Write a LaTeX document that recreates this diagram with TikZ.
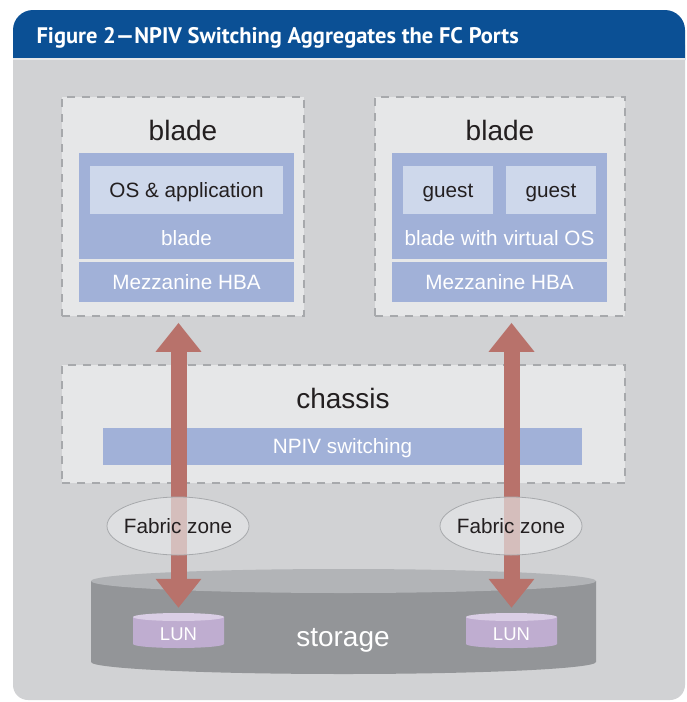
\documentclass[tikz,border=0pt]{standalone}
\usepackage{fontspec}
\setmainfont{Liberation Sans}
\newfontfamily\titlefont{PT Sans}
\usetikzlibrary{arrows.meta,shapes.geometric}
\definecolor{titleblue}{HTML}{0B5095}
\definecolor{panelgray}{HTML}{D1D2D4}
\definecolor{boxgray}{HTML}{E6E7E8}
\definecolor{dashgray}{HTML}{A7A9AC}
\definecolor{bladeblue}{HTML}{A1B1D8}
\definecolor{guestblue}{HTML}{CED8EB}
\definecolor{arrowred}{HTML}{B8726B}
\definecolor{diskdark}{HTML}{939598}
\definecolor{disklight}{HTML}{B2B4B7}
\definecolor{lunbody}{HTML}{BFADD0}
\definecolor{luntop}{HTML}{DACEE5}
\definecolor{inkdark}{HTML}{231F20}
\def\disk(#1,#2)(#3:#4:#5)#6#7{\fill[#6] (#1-#3,#2) -- (#1-#3,#2+#4) arc (180:0:#3 and #5) -- (#1+#3,#2) -- cycle; \fill[#7] (#1,#2) ellipse (#3 and #5);}
\tikzset{
	smalltext/.style={font=\fontsize{20.7}{24}\selectfont, text height=14.8pt, text depth=0pt},
	bigtext/.style={text=inkdark, font=\fontsize{28}{32}\selectfont, text height=20pt, text depth=0pt},
	luntext/.style={text=white, font=\fontsize{18.5}{22}\selectfont, text height=13.2pt, text depth=0pt, minimum width=91pt, minimum height=42pt, inner sep=0pt},
	dashbox/.style={draw=dashgray, line width=1.6pt, dash pattern=on 8pt off 7pt, fill=boxgray, inner sep=0pt},
	bladefill/.style={fill=bladeblue, inner sep=0pt, text=white, smalltext},
	guestfill/.style={fill=guestblue, inner sep=0pt, text=inkdark, smalltext},
	zone/.style={ellipse, draw=dashgray, line width=0.8pt, fill=boxgray, fill opacity=0.65, text opacity=1, text=inkdark, inner ysep=0pt, inner xsep=-4pt, minimum width=142pt, minimum height=58pt, smalltext},
	fatarrow/.style={draw=arrowred, line width=16pt, {Triangle[width=44pt,length=29pt]}-{Triangle[width=44pt,length=29pt]}},
}
\begin{document}
\begin{tikzpicture}[x=1pt, y=-1pt]
			%%%%% START %%%%%
			\useasboundingbox[fill=white] (0,0) rectangle (687,702);
			
			\fill[panelgray, rounded corners=15pt] (13,30) rectangle (685,700);
			\fill[titleblue, rounded corners=20pt] (13,10) rectangle (685,80);
			\fill[panelgray] (13,60) rectangle (685,100);
			\fill[boxgray] (13,58) rectangle (685,60);
			\node[anchor=base west, text=white, font=\titlefont\bfseries\fontsize{22.5}{26}\selectfont] (title) at (33,43) {Figure 2—NPIV Switching Aggregates the FC Ports};
			
			\node[dashbox, minimum width=242pt, minimum height=219pt] (bladeL) at (183,206.5) {};
			\node[bigtext] (bladeLtitle) at (183,130) {blade};
			\node[bladefill, minimum width=215pt, minimum height=106pt] (bodyL) at (186.5,206) {};
			\node[guestfill, minimum width=193pt, minimum height=48pt] (osapp) at (186.5,190) {OS \& application};
			\node[smalltext, text=white] (bodyLname) at (186.5,238) {blade};
			\node[bladefill, minimum width=215pt, minimum height=40pt] (hbaL) at (186.5,282) {Mezzanine HBA};
			
			\node[dashbox, minimum width=250pt, minimum height=219pt] (bladeR) at (500,206.5) {};
			\node[bigtext] (bladeRtitle) at (500,130) {blade};
			\node[bladefill, minimum width=215pt, minimum height=106pt] (bodyR) at (499.5,206) {};
			\node[guestfill, minimum width=90pt, minimum height=48pt] (guestA) at (448,190) {guest};
			\node[guestfill, minimum width=90pt, minimum height=48pt] (guestB) at (551,190) {guest};
			\node[smalltext, text=white] (bodyRname) at (499.5,238) {blade with virtual OS};
			\node[bladefill, minimum width=215pt, minimum height=40pt] (hbaR) at (499.5,282) {Mezzanine HBA};
			
			\node[dashbox, minimum width=563pt, minimum height=118pt] (chassis) at (343.5,424) {};
			\node[bigtext] (chassistitle) at (343,398) {chassis};
			\node[bladefill, minimum width=479pt, minimum height=37pt] (npiv) at (342.5,446.5) {NPIV switching};
			
			\disk(343.5,581)(252.5:81:12){diskdark}{disklight}
			\node[bigtext, text=white] (storage) at (343,636) {storage};
			
			\disk(178.5,617)(45.5:27:4){lunbody}{luntop}
			\disk(511.5,617)(45.5:27:4){lunbody}{luntop}
			\node[luntext] (lunL) at (178.5,634) {LUN};
			\node[luntext] (lunR) at (511.5,634) {LUN};
			
			\draw[fatarrow, shorten <=5pt, shorten >=6pt] (lunL.north) -- (lunL.north |- bladeL.south);
			\draw[fatarrow, shorten <=5pt, shorten >=6pt] (lunR.north) -- (lunR.north |- bladeR.south);
			
			\node[zone] (zoneL) at (178,526) {Fabric zone};
			\node[zone] (zoneR) at (511,526) {Fabric zone};
			%%%%% END %%%%%
\end{tikzpicture}
\end{document}
